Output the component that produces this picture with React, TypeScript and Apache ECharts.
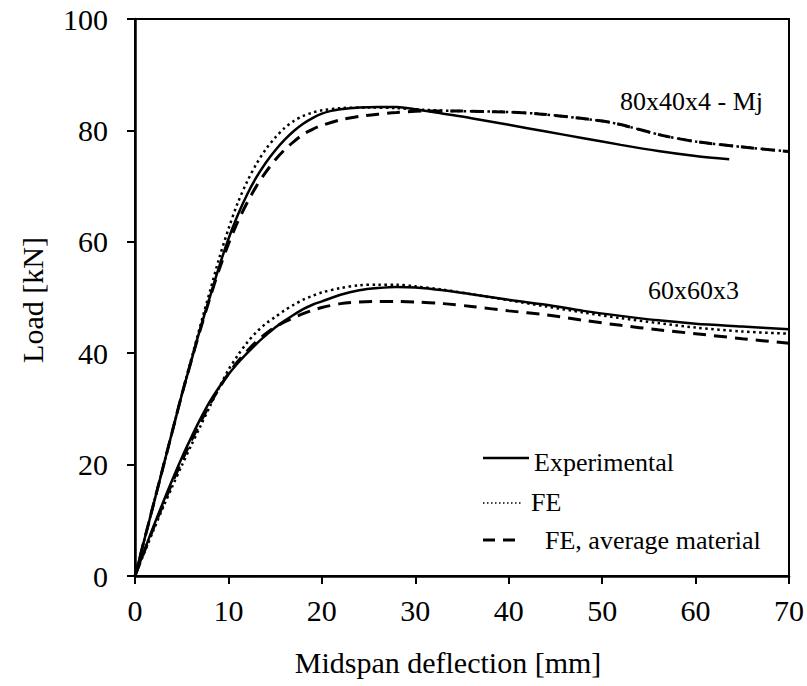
import React, { useEffect, useRef } from "react";
import * as echarts from "echarts";

const FONT = "Liberation Serif";
const FS = 26;
const FS_AX = 30;

// Tick labels
const xTicks = [0, 10, 20, 30, 40, 50, 60, 70];
const yTicks = [0, 20, 40, 60, 80, 100];

// 80x40x4 - Mj
const exp80X = [0, 1, 2, 3, 4, 5, 6, 7, 8, 9, 10, 11, 12, 13, 14, 15, 16, 17, 18, 19, 20, 21, 22, 24, 26, 28, 30, 33, 36, 40, 44, 48, 52, 56, 60, 63.6];
const exp80Y = [0, 6.5, 13, 19.5, 26, 32.5, 38.5, 44.5, 50, 55.5, 60.5, 64.8, 68.5, 71.6, 74.2, 76.4, 78.3, 79.9, 81.2, 82.2, 83.0, 83.5, 83.8, 84.1, 84.2, 84.2, 83.8, 83.0, 82.2, 81.0, 79.8, 78.6, 77.4, 76.3, 75.4, 74.8];

const fe80X = [0, 1, 2, 3, 4, 5, 6, 7, 8, 9, 10, 11, 12, 13, 14, 15, 16, 17, 18, 19, 20, 22, 25, 28, 31, 34, 37, 40, 43, 46, 49, 51, 53, 55, 57, 60, 64, 70];
const fe80Y = [0, 6.5, 13, 19.5, 26, 32.5, 38.8, 45, 51, 57, 62.3, 67, 70.8, 74, 76.6, 78.7, 80.4, 81.7, 82.6, 83.2, 83.6, 84.0, 84.1, 84.0, 83.7, 83.5, 83.4, 83.3, 83.0, 82.5, 81.9, 81.4, 80.6, 79.7, 78.9, 78.0, 77.2, 76.2];

const avg80X = [0, 1, 2, 3, 4, 5, 6, 7, 8, 9, 10, 11, 12, 13, 14, 15, 16, 17, 18, 19, 20, 22, 24, 26, 28, 31, 34, 37, 40, 43, 46, 49, 51, 53, 55, 57, 60, 64, 70];
const avg80Y = [0, 6.5, 13, 19.5, 26, 32.5, 38.5, 44.3, 49.8, 55, 59.6, 63.6, 67, 70, 72.5, 74.7, 76.5, 78, 79.3, 80.2, 80.9, 81.9, 82.5, 82.9, 83.2, 83.5, 83.5, 83.4, 83.3, 83.0, 82.5, 81.9, 81.4, 80.6, 79.7, 78.9, 78.0, 77.2, 76.2];

// 60x60x3
const x60 = [0, 1, 2, 3, 4, 5, 6, 7, 8, 9, 10, 11, 12, 13, 14, 15, 16, 17, 18, 19, 20, 22, 24, 26, 28, 30, 33, 36, 40, 44, 48, 52, 56, 60, 65, 70];
const exp60Y = [0, 4.6, 9, 13.2, 17.3, 21.2, 24.8, 28.2, 31.3, 33.9, 36.2, 38.2, 40.0, 41.7, 43.2, 44.6, 45.8, 46.9, 47.9, 48.7, 49.3, 50.5, 51.3, 51.7, 51.9, 51.8, 51.3, 50.6, 49.6, 48.7, 47.6, 46.7, 45.9, 45.3, 44.8, 44.3];
const fe60Y = [0, 4.2, 8.3, 12.3, 16.1, 19.8, 23.4, 26.9, 30.4, 33.8, 37.0, 39.6, 41.9, 43.8, 45.3, 46.5, 47.7, 48.7, 49.6, 50.3, 50.9, 51.7, 52.2, 52.3, 52.3, 52.0, 51.4, 50.6, 49.5, 48.4, 47.3, 46.3, 45.4, 44.6, 43.9, 43.5];
const avg60Y = [0, 4.4, 8.7, 12.8, 16.8, 20.6, 24.2, 27.6, 30.8, 33.7, 36.3, 38.5, 40.4, 42.1, 43.5, 44.7, 45.6, 46.4, 47.1, 47.7, 48.2, 48.9, 49.2, 49.3, 49.3, 49.2, 48.9, 48.4, 47.6, 46.9, 45.9, 45.0, 44.2, 43.5, 42.6, 41.8];

const legendLabels = ["Experimental", "FE", "FE, average material"];
const curveLabels = ["80x40x4 - Mj", "60x60x3"];
const axisTitles = ["Midspan deflection [mm]", "Load [kN]"];

const zip = (xs: number[], ys: number[]) => xs.map((x, i) => [x, ys[i]]);

const solid = { color: "#000", width: 2.5, type: "solid" as const };
const dotted = { color: "#000", width: 2.5, type: [2.5, 3.5], cap: "butt" as const };
const dashed = { color: "#000", width: 3, type: [13, 8], cap: "butt" as const };

const txt = (text: string, x: number, y: number, align: string, size: number, extra: any = {}) => ({
  type: "text",
  x,
  y,
  ...extra,
  style: { text, fontFamily: FONT, fontSize: size, fill: "#000", align, verticalAlign: "middle" },
});

export default function App() {
  const ref = useRef<HTMLDivElement>(null);
  useEffect(() => {
    if (!ref.current) return;
    const chart = echarts.init(ref.current, null, { renderer: "svg" });
    const mk = (name: string, data: number[][], ls: any) => ({
      name,
      type: "line",
      data,
      symbol: "none",
      smooth: 0.3,
      lineStyle: ls,
      silent: true,
    });
    chart.setOption({
      animation: false,
      backgroundColor: "#ffffff",
      textStyle: { fontFamily: FONT, color: "#000" },
      grid: { left: 135, right: 17, top: 19, bottom: 110, show: true, borderColor: "#000", borderWidth: 2 },
      xAxis: {
        type: "value",
        min: 0,
        max: 70,
        interval: 10,
        axisLine: { lineStyle: { color: "#000", width: 2.5 } },
        axisTick: { show: true, inside: false, length: 8, lineStyle: { color: "#000", width: 2 } },
        splitLine: { show: false },
        axisLabel: {
          color: "#000",
          fontFamily: FONT,
          fontSize: FS_AX,
          margin: 19,
          formatter: (v: number) => (xTicks.includes(v) ? String(v) : ""),
        },
      },
      yAxis: {
        type: "value",
        min: 0,
        max: 100,
        interval: 20,
        axisLine: { lineStyle: { color: "#000", width: 2.5 } },
        axisTick: { show: true, inside: false, length: 8, lineStyle: { color: "#000", width: 2 } },
        splitLine: { show: false },
        axisLabel: {
          color: "#000",
          fontFamily: FONT,
          fontSize: FS_AX,
          margin: 27,
          formatter: (v: number) => (yTicks.includes(v) ? String(v) : ""),
        },
      },
      series: [
        mk("Experimental 80", zip(exp80X, exp80Y), solid),
        mk("FE 80", zip(fe80X, fe80Y), dotted),
        mk("FE avg 80", zip(avg80X, avg80Y), dashed),
        mk("Experimental 60", zip(x60, exp60Y), solid),
        mk("FE 60", zip(x60, fe60Y), dotted),
        mk("FE avg 60", zip(x60, avg60Y), dashed),
      ],
      graphic: [
        txt(axisTitles[1], 32, 300, "center", FS_AX, { rotation: Math.PI / 2 }),
        txt(axisTitles[0], 448, 662, "center", FS_AX),
        txt(curveLabels[0], 620, 101, "left", FS),
        txt(curveLabels[1], 648, 290, "left", FS),
        { type: "line", shape: { x1: 483, y1: 458, x2: 529, y2: 458 }, style: { stroke: "#000", lineWidth: 2.5 } },
        txt(legendLabels[0], 534, 462, "left", FS),
        { type: "line", shape: { x1: 483, y1: 503, x2: 521, y2: 503 }, style: { stroke: "#000", lineWidth: 1.5, lineDash: [1.5, 2.5] } },
        txt(legendLabels[1], 531, 502, "left", FS),
        { type: "line", shape: { x1: 483, y1: 540, x2: 516, y2: 540 }, style: { stroke: "#000", lineWidth: 3, lineDash: [12, 8] } },
        txt(legendLabels[2], 545, 540, "left", FS),
      ],
    });
    return () => chart.dispose();
  }, []);
  return <div ref={ref} style={{ position: "fixed", left: 0, top: 0, width: 807, height: 686, background: "#fff" }} />;
}
